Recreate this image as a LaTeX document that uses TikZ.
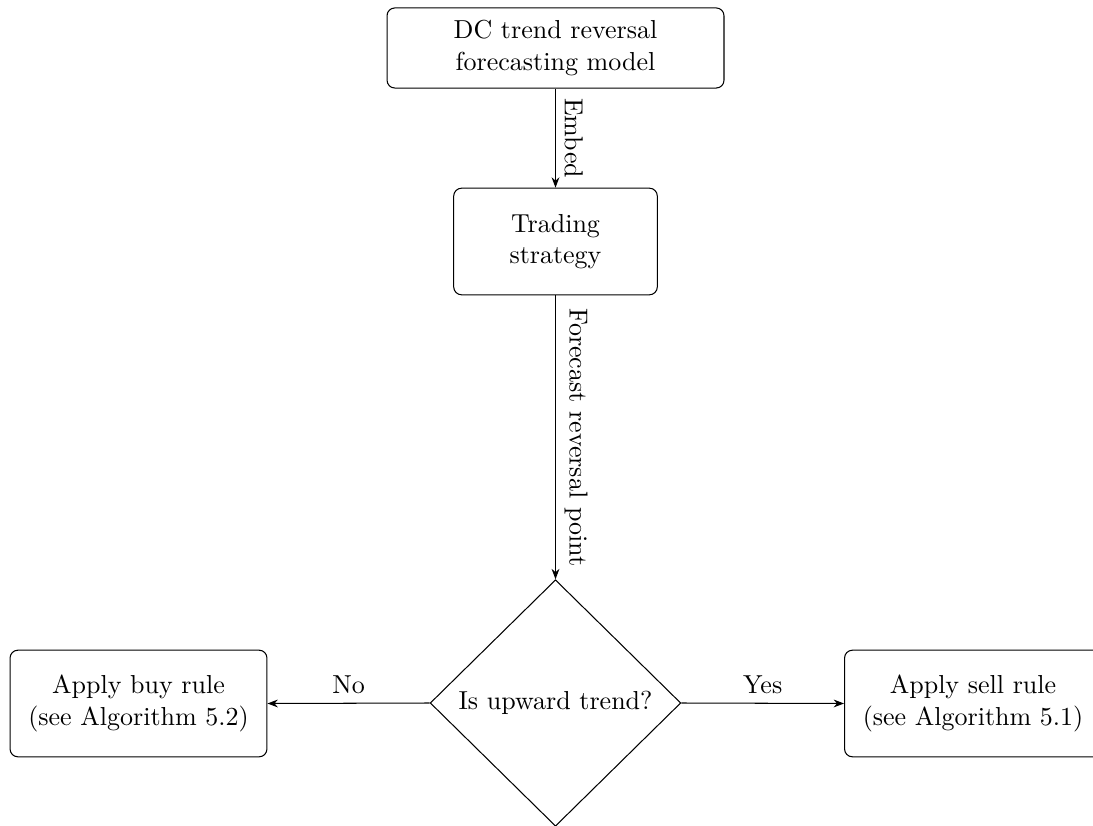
\documentclass[tikz,border=0pt]{standalone}
\usetikzlibrary{shapes.geometric,arrows.meta}
\begin{document}
\begin{tikzpicture}[x=0.38462pt,y=-0.38462pt,
  box/.style={draw, rounded corners=3pt, align=center, inner sep=0pt},
  decision/.style={draw, diamond, aspect=1, inner sep=0pt,
    minimum width=96.4pt, minimum height=94.8pt},
  flow/.style={-{Stealth[length=4pt,width=3pt]}},
  downlabel/.style={midway, rotate=-90, anchor=south}]
\useasboundingbox (0,0) rectangle (1093,826);

% process boxes
\node[box, minimum width=129.6pt, minimum height=30.8pt] (model) at (555.5,48)
  {DC trend reversal\\forecasting model};
\node[box, minimum width=78.3pt, minimum height=41pt] (strategy) at (555.5,241.5)
  {Trading\\strategy};
\node[decision] (upward) at (555.5,703) {Is upward trend?};
\node[box, minimum width=98.8pt, minimum height=41pt] (buy) at (138.5,703.5)
  {Apply buy rule\\(see Algorithm 5.2)};
\node[box, minimum width=98.8pt, minimum height=41pt] (sell) at (973,703.5)
  {Apply sell rule\\(see Algorithm 5.1)};

% connectors
\draw[flow] (model.south) -- node[downlabel] {Embed} (strategy.north);
\draw[flow] (strategy.south) -- node[downlabel] {Forecast reversal point} (upward.north);
\draw[flow] (upward.west) -- node[midway, above] {No} (buy.east);
\draw[flow] (upward.east) -- node[midway, above] {Yes} (sell.west);
\end{tikzpicture}
\end{document}
